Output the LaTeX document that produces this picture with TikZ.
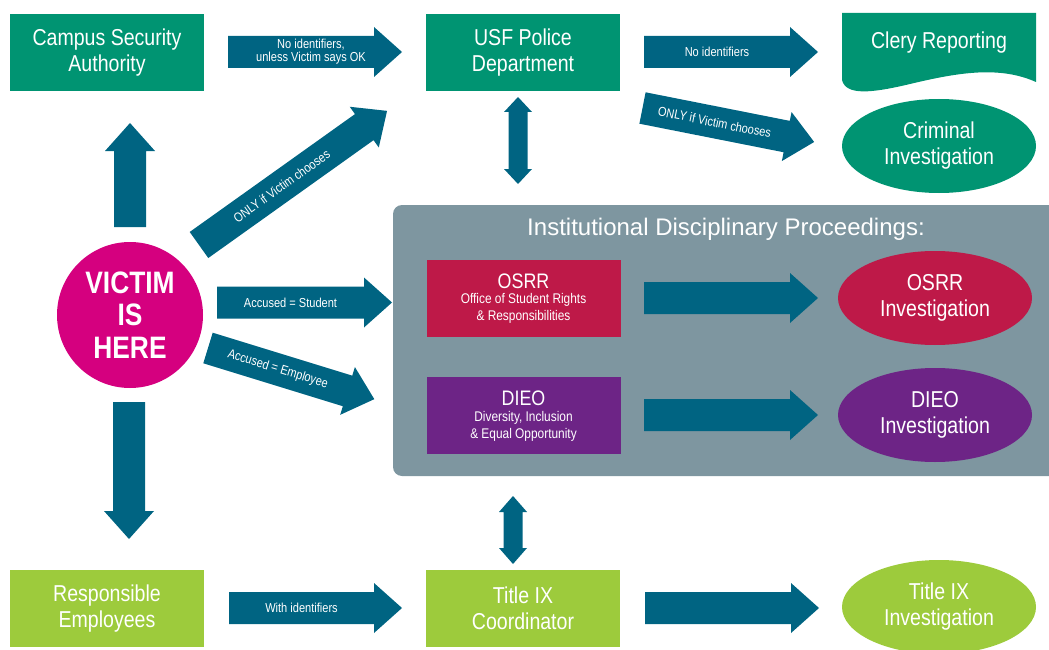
\documentclass[tikz,border=0pt]{standalone}
\usepackage{fontspec}
\setmainfont{Liberation Sans}[FakeStretch=0.85]
\newfontfamily\titlefont{Liberation Sans}
\usetikzlibrary{shapes.geometric}
\definecolor{csagreen}{HTML}{009472}
\definecolor{arrowc}{HTML}{006482}
\definecolor{osrrc}{HTML}{BE1948}
\definecolor{dieoc}{HTML}{6D2486}
\definecolor{limec}{HTML}{9DCB3C}
\definecolor{panelc}{HTML}{7E96A0}
\definecolor{victimc}{HTML}{D5007F}
\tikzset{
  boxnode/.style={rectangle, minimum width=194pt, minimum height=77pt, inner sep=0pt, text=white, align=center, font=\fontsize{23}{26}\selectfont},
  ellnode/.style={ellipse, minimum width=194pt, minimum height=94pt, inner sep=0pt, text=white, align=center, font=\fontsize{23}{26}\selectfont},
  lbl/.style={text=white, align=center, inner sep=0pt, font=\fontsize{13}{13}\selectfont},
}
\newcommand\blockarrow[7]{%
  \begin{scope}[shift={(#2,#3)},rotate=#4]
    \fill[arrowc] (0,-16) -- ({#5-28},-16) -- ({#5-28},-25) -- (#5,0) -- ({#5-28},25) -- ({#5-28},16) -- (0,16) -- cycle;
    \node[lbl,rotate=#4] (#1) at ({(#5-28)/2+#7},0) {#6};
  \end{scope}}
\begin{document}
\begin{tikzpicture}[x=1pt,y=-1pt]
\useasboundingbox (0,0) rectangle (1049,650);
% panel
\fill[panelc, rounded corners=9pt] (393,205) rectangle (1070,476);
\node[text=white, inner sep=0pt, font=\titlefont\fontsize{24}{26}\selectfont] (ptitle) at (726,229) {Institutional Disciplinary Proceedings:};
% boxes
\node[boxnode, fill=csagreen] (csa) at (107,52.5) {Campus Security\\Authority};
\node[boxnode, fill=csagreen] (usf) at (523,52.5) {USF Police\\Department};
\node[boxnode, fill=limec] (re) at (107,608.5) {Responsible\\Employees};
\node[boxnode, fill=limec] (t9) at (523,608.5) {Title IX\\Coordinator};
\node[boxnode, fill=osrrc] (osrr) at (523.5,298.5) {};
\node[text=white, inner sep=0pt, font=\fontsize{21}{24}\selectfont] (osrrt) at ([yshift=17.5pt]osrr.center) {OSRR};
\node[text=white, inner sep=0pt, align=center, font=\fontsize{14}{17}\selectfont] (osrrs) at ([yshift=-10pt]osrr.center) {Office of Student Rights\\\& Responsibilities};
\node[boxnode, fill=dieoc] (dieo) at (523.5,415.5) {};
\node[text=white, inner sep=0pt, font=\fontsize{21}{24}\selectfont] (dieot) at ([yshift=17.5pt]dieo.center) {DIEO};
\node[text=white, inner sep=0pt, align=center, font=\fontsize{14}{17}\selectfont] (dieos) at ([yshift=-11pt]dieo.center) {Diversity, Inclusion\\\& Equal Opportunity};
% clery
\fill[csagreen] (842,13) -- (1036,13) -- (1036,82) .. controls (1000,66) and (960,72) .. (910,84) .. controls (872,93) and (846,96) .. (842,80) -- cycle;
\node[text=white, inner sep=0pt, font=\fontsize{23}{26}\selectfont] (clery) at (939,43) {Clery Reporting};
% ellipses
\node[ellnode, fill=csagreen] (crim) at (939,146) {Criminal\\Investigation};
\node[ellnode, fill=osrrc] (osrri) at (935,298) {OSRR\\Investigation};
\node[ellnode, fill=dieoc] (dieoi) at (935,415) {DIEO\\Investigation};
\node[ellnode, fill=limec] (t9i) at (939,607) {Title IX\\Investigation};
% victim
\node[circle, fill=victimc, minimum size=146pt, inner sep=0pt, text=white, align=center, font=\bfseries\fontsize{31}{32.5}\selectfont] (victim) at (130,315) {VICTIM\\IS\\HERE};
% block arrows
\blockarrow{a1}{228}{52}{0}{174}{No identifiers,\\unless Victim says OK}{10}
\blockarrow{a2}{644}{52}{0}{174}{No identifiers}{0}
\blockarrow{a3}{642.5}{108}{-11.2}{175}{ONLY if Victim chooses}{0}
\blockarrow{a4}{199}{245}{35.5}{231}{ONLY if Victim chooses}{0}
\blockarrow{a5}{217}{302.5}{0}{175}{Accused = Student}{0}
\blockarrow{a6}{208}{348}{-17.1}{174}{Accused = Employee}{0}
\blockarrow{a7}{644}{298}{0}{174}{}{0}
\blockarrow{a8}{644}{415}{0}{174}{}{0}
\blockarrow{a9}{229}{608}{0}{173}{With identifiers}{0}
\blockarrow{a10}{645}{608}{0}{174}{}{0}
\blockarrow{aup}{130}{227}{90}{104}{}{0}
\blockarrow{adown}{129}{402}{-90}{137}{}{0}
% double arrows
\fill[arrowc] (518,97) -- (532,112) -- (527.5,112) -- (527.5,169) -- (532,169) -- (518,184) -- (504,169) -- (508.5,169) -- (508.5,112) -- (504,112) -- cycle;
\fill[arrowc] (513,496) -- (527,512) -- (522.5,512) -- (522.5,548) -- (527,548) -- (513,564) -- (499,548) -- (503.5,548) -- (503.5,512) -- (499,512) -- cycle;
\end{tikzpicture}
\end{document}
